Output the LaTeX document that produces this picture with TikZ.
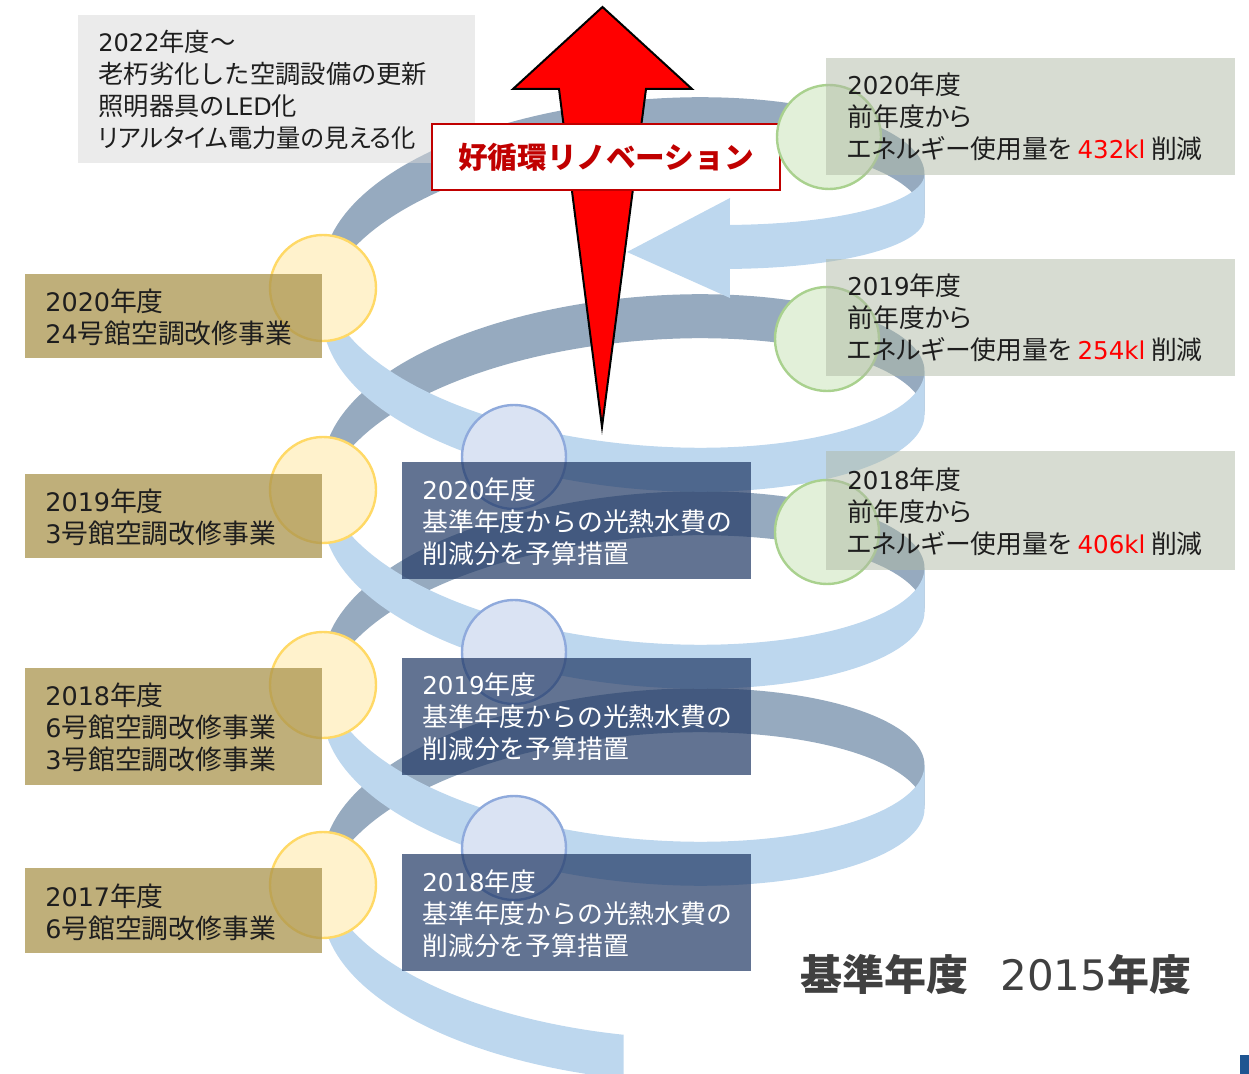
\documentclass[tikz,border=0pt]{standalone}
\usepackage{fontspec}
\setmainfont{Noto Sans CJK JP}
\newfontfamily\jpprop{Noto Sans CJK JP}[RawFeature={+palt}]
\newfontfamily\jpnarrow{Noto Sans CJK JP}[RawFeature={+palt}, FakeStretch=0.96]
\newfontfamily\latf{DejaVu Sans}[Scale=0.95]
\newfontfamily\latbig{DejaVu Sans}
\newcommand\ltn[1]{{\latf #1}}
\definecolor{bandback}{HTML}{96AABF}
\definecolor{bandfront}{HTML}{BDD7EE}
\definecolor{tanfill}{HTML}{AA944E}
\definecolor{grayfill}{HTML}{D7D7D7}
\definecolor{greenfill}{HTML}{AFB9A5}
\definecolor{darkfill}{HTML}{203864}
\definecolor{ycfill}{HTML}{FFF2CC}
\definecolor{ycline}{HTML}{FFD966}
\definecolor{gcfill}{HTML}{E2F0D9}
\definecolor{gcline}{HTML}{A9D18E}
\definecolor{bcfill}{HTML}{DAE3F3}
\definecolor{bcline}{HTML}{8FAADC}
\definecolor{labelred}{HTML}{C00000}
\definecolor{basegray}{HTML}{404040}
\definecolor{textblack}{HTML}{1E1E1E}
\definecolor{numred}{HTML}{FF0000}
\definecolor{cornerblue}{HTML}{1F5591}
\newcommand\spiralstrip[4]{%
  \fill[#1] plot[domain=#2:#3,samples=90,variable=\t]
    ({623.5+301*cos(\t)},{196-(\t)/360*197+#4*sin(\t)-22})
    -- plot[domain=#3:#2,samples=90,variable=\t]
    ({623.5+301*cos(\t)},{196-(\t)/360*197+#4*sin(\t)+22}) -- cycle;}
\begin{document}
\begin{tikzpicture}[x=0.5pt,y=-0.5pt,
  txt/.style={font=\fontsize{12.9pt}{16pt}\selectfont, align=left, anchor=west, inner sep=0pt, text=textblack},
  tantxt/.style={txt, font=\fontsize{13.4pt}{16pt}\selectfont},
  graytxt/.style={txt, font=\fontsize{12.65pt}{16pt}\selectfont},
  greentxt/.style={txt, font=\fontsize{12.9pt}{16pt}\selectfont\jpprop},
  wtxt/.style={txt, text=white},
  tanbox/.style={fill=tanfill, fill opacity=0.75, anchor=north west, inner sep=0pt, minimum width=148.5pt, text opacity=1},
  darkbox/.style={fill=darkfill, fill opacity=0.7, anchor=north west, inner sep=0pt, minimum width=174.5pt},
  greenbox/.style={fill=greenfill, fill opacity=0.5, anchor=north west, inner sep=0pt, minimum width=204.5pt},
  graybox/.style={fill=grayfill, fill opacity=0.5, anchor=north west, inner sep=0pt},
  ycirc/.style={circle, fill=ycfill, draw=ycline, line width=1.2pt, minimum size=53pt, inner sep=0pt},
  gcirc/.style={circle, fill=gcfill, draw=gcline, line width=1.2pt, minimum size=52pt, inner sep=0pt},
  bcirc/.style={circle, fill=bcfill, draw=bcline, line width=1.2pt, minimum size=52pt, inner sep=0pt}]
\useasboundingbox (0,0) rectangle (1249,1074);
\begin{scope}
\clip (0,0) rectangle (1249,1074);
% back (dark) parts of the spiral
\spiralstrip{bandback}{-1260}{-1080}{122}
\spiralstrip{bandback}{-900}{-720}{122}
\spiralstrip{bandback}{-540}{-360}{122}
\spiralstrip{bandback}{-180}{0}{122}
% front (light) parts of the spiral
\spiralstrip{bandfront}{-1350}{-1260}{122}
\spiralstrip{bandfront}{-1080}{-900}{122}
\spiralstrip{bandfront}{-720}{-540}{122}
\spiralstrip{bandfront}{-360}{-180}{122}
% top front part ending in the arrow head
\fill[bandfront] plot[domain=0:69.3,samples=40,variable=\t]
    ({623.5+301*cos(\t)},{196-(\t)/360*197+95*sin(\t)-22})
  -- (730,198) -- (627,252) -- (730,298)
  -- plot[domain=69.3:0,samples=40,variable=\t]
    ({623.5+301*cos(\t)},{196-(\t)/360*197+95*sin(\t)+22}) -- cycle;
\end{scope}
% top-left grey box
\node[graybox, minimum width=198.5pt, minimum height=74pt] (gray) at (78,15) {};
\node[graytxt] (graytxt) at (98,90) {\ltn{2022}年度～\\老朽劣化した空調設備の更新\\照明器具の\ltn{LED}化\\{\jpnarrow リアルタイム電力量の見える化}};
% red arrow
\filldraw[fill=red, draw=black, line width=1pt, line join=miter]
  (602.5,7) -- (692,89) -- (646,89) -- (602,427) -- (559,89) -- (513,89) -- cycle;
\node[draw=labelred, line width=1pt, fill=white, anchor=north west, minimum width=174pt, minimum height=33pt, inner sep=0pt,
  text=labelred, font=\fontsize{14.8pt}{16pt}\selectfont\bfseries] (label) at (431,123) {好循環リノベーション};
% circles
\node[ycirc] (y1) at (323,288) {};
\node[ycirc] (y2) at (323,490) {};
\node[ycirc] (y3) at (323,685) {};
\node[ycirc] (y4) at (323,885) {};
\node[bcirc] (b1) at (514,457) {};
\node[bcirc] (b2) at (514,652) {};
\node[bcirc] (b3) at (514,848) {};
\node[gcirc] (g1) at (829,137) {};
\node[gcirc] (g2) at (827,339) {};
\node[gcirc] (g3) at (827,532) {};
% left tan boxes
\node[tanbox, minimum height=42pt] (t1) at (25,274) {};
\node[tanbox, minimum height=42pt] (t2) at (25,474) {};
\node[tanbox, minimum height=58.5pt] (t3) at (25,668) {};
\node[tanbox, minimum height=42.5pt] (t4) at (25,868) {};
\node[tantxt] (t1txt) at (45,317) {\ltn{2020}年度\\\ltn{24}号館空調改修事業};
\node[tantxt] (t2txt) at (45,517) {\ltn{2019}年度\\\ltn{3}号館空調改修事業};
\node[tantxt] (t3txt) at (45,727) {\ltn{2018}年度\\\ltn{6}号館空調改修事業\\\ltn{3}号館空調改修事業};
\node[tantxt] (t4txt) at (45,912) {\ltn{2017}年度\\\ltn{6}号館空調改修事業};
% middle dark boxes
\node[darkbox, minimum height=58.5pt] (d1) at (402,462) {};
\node[darkbox, minimum height=58.5pt] (d2) at (402,658) {};
\node[darkbox, minimum height=58.5pt] (d3) at (402,854) {};
\node[wtxt] (d1txt) at (422,521.5) {\ltn{2020}年度\\基準年度からの光熱水費の\\削減分を予算措置};
\node[wtxt] (d2txt) at (422,717) {\ltn{2019}年度\\基準年度からの光熱水費の\\削減分を予算措置};
\node[wtxt] (d3txt) at (422,914) {\ltn{2018}年度\\基準年度からの光熱水費の\\削減分を予算措置};
% right green boxes
\node[greenbox, minimum height=58.5pt] (r1) at (826,58) {};
\node[greenbox, minimum height=58.5pt] (r2) at (826,259) {};
\node[greenbox, minimum height=59.5pt] (r3) at (826,451) {};
\node[greentxt] (r1txt) at (847,117) {\ltn{2020}年度\\前年度から\\エネルギー使用量を {\color{numred}\ltn{432kl}} 削減};
\node[greentxt] (r2txt) at (847,318) {\ltn{2019}年度\\前年度から\\エネルギー使用量を {\color{numred}\ltn{254kl}} 削減};
\node[greentxt] (r3txt) at (847,512) {\ltn{2018}年度\\前年度から\\エネルギー使用量を {\color{numred}\ltn{406kl}} 削減};
% base year
\node[anchor=west, inner sep=0pt, text=basegray, font=\fontsize{21pt}{24pt}\selectfont] (base) at (800,975)
  {\bfseries 基準年度\hspace{16pt}\mdseries{\latbig 2015}\bfseries 年度};
% corner mark
\fill[cornerblue] (1240,1055) rectangle (1249,1074);
\end{tikzpicture}
\end{document}
